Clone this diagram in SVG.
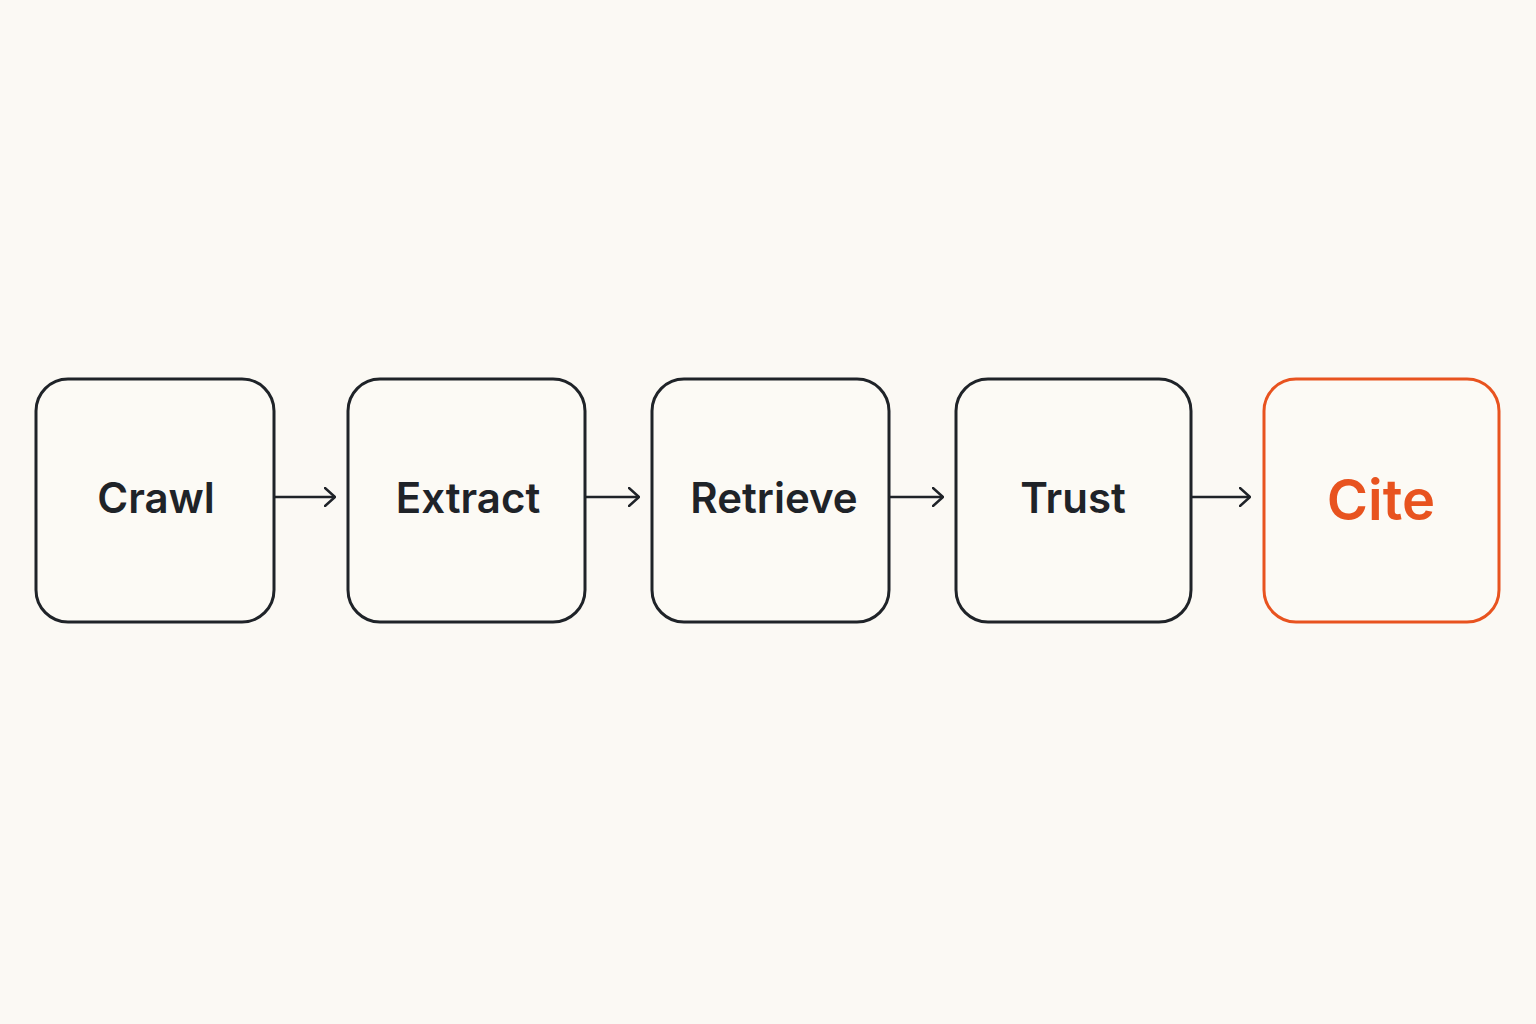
<svg xmlns="http://www.w3.org/2000/svg" width="1536" height="1024" viewBox="0 0 1536 1024">
<defs>
<marker id="arr" viewBox="0 0 12 20" refX="11" refY="10" markerWidth="12" markerHeight="20" markerUnits="userSpaceOnUse" orient="auto">
<path d="M1,1 L11,10 L1,19" fill="none" stroke="#1f2328" stroke-width="2.4" stroke-linecap="round" stroke-linejoin="round"/>
</marker>
</defs>
<style>
.box{fill:#fcfaf5;stroke:#1f2328;stroke-width:3}
.lbl{font-family:Inter,"Liberation Sans",sans-serif;font-weight:600;font-size:42px;fill:#1f2328;text-anchor:middle}
.edge{stroke:#1f2328;stroke-width:2.4;fill:none}
</style>
<rect width="1536" height="1024" fill="#fbf9f4"/>
<g id="connectors">
<line class="edge" x1="275" y1="497" x2="335" y2="497" marker-end="url(#arr)"/>
<line class="edge" x1="586" y1="497" x2="639" y2="497" marker-end="url(#arr)"/>
<line class="edge" x1="890" y1="497" x2="943" y2="497" marker-end="url(#arr)"/>
<line class="edge" x1="1192" y1="497" x2="1250" y2="497" marker-end="url(#arr)"/>
</g>
<g id="crawl"><rect class="box" x="36" y="379" width="238" height="243" rx="32"/><text class="lbl" x="156" y="513">Crawl</text></g>
<g id="extract"><rect class="box" x="348" y="379" width="237" height="243" rx="32"/><text class="lbl" x="468" y="513">Extract</text></g>
<g id="retrieve"><rect class="box" x="652" y="379" width="237" height="243" rx="32"/><text class="lbl" x="774" y="513">Retrieve</text></g>
<g id="trust"><rect class="box" x="956" y="379" width="235" height="243" rx="32"/><text class="lbl" x="1073" y="513">Trust</text></g>
<g id="cite"><rect class="box" x="1264" y="379" width="235" height="243" rx="32" style="stroke:#e8531f"/><text class="lbl" x="1381" y="520" style="fill:#e8531f;font-size:56px">Cite</text></g>
</svg>
